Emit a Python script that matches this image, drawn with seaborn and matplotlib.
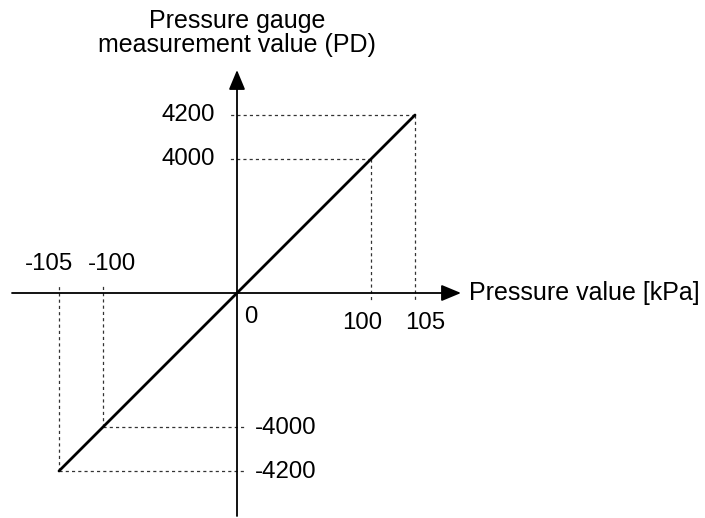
import numpy as np
import pandas as pd
import matplotlib
matplotlib.use("Agg")
import matplotlib.pyplot as plt
import seaborn as sns

# ---- data ----
pressure_kpa = [-105, -100, 0, 100, 105]
gauge_pd = [-4200, -4000, 0, 4000, 4200]
x_tick_values = [-105, -100, 0, 100, 105]
x_tick_labels = ["-105", "-100", "0", "100", "105"]
y_tick_values = [4200, 4000, -4000, -4200]
y_tick_labels = ["4200", "4000", "-4000", "-4200"]
x_label = "Pressure value [kPa]"
y_label = "Pressure gauge\nmeasurement value (PD)"

sns.set_theme(style="white")
plt.rcParams["font.family"] = ["Liberation Sans", "DejaVu Sans"]


def make_scale(brk, k_in, k_out):
    """Piecewise-linear (schematic, not-to-scale) axis mapping."""
    def fwd(v):
        v = np.asarray(v, float)
        a = np.abs(v)
        return np.sign(v) * np.where(a <= brk, k_in * a, k_in * brk + k_out * (a - brk))

    def inv(p):
        p = np.asarray(p, float)
        a = np.abs(p)
        return np.sign(p) * np.where(a <= k_in * brk, a / k_in, brk + (a - k_in * brk) / k_out)

    return fwd, inv


fx, ix = make_scale(100, 1.34, 8.8)
fy, iy = make_scale(4000, 0.0335, 0.22)

fig = plt.figure(figsize=(7.05, 5.18), dpi=100)
ax = fig.add_axes([0, 0, 1, 1])
ax.set_xscale("function", functions=(fx, ix))
ax.set_yscale("function", functions=(fy, iy))

df = pd.DataFrame({"pressure": pressure_kpa, "pd": gauge_pd})
sns.lineplot(data=df, x="pressure", y="pd", color="black", lw=2.0, ax=ax,
             sort=True, legend=False, zorder=5)

ax.set_xlim(float(ix(-237)), float(ix(468)))
ax.set_ylim(float(iy(-225)), float(iy(293)))
ax.axis("off")

# dashed guide lines
guide = dict(color="#333333", lw=0.9, ls=(0, (2.5, 2.5)), zorder=2)
for xv, yv in zip(pressure_kpa, gauge_pd):
    if xv == 0:
        continue
    s = np.sign(yv)
    ax.plot([xv, xv], [yv, float(iy(-s * 9))], **guide)
    ax.plot([xv, float(ix(-np.sign(xv) * 8))], [yv, yv], **guide)

# axes arrows
arrow = dict(arrowstyle="-|>,head_length=1.2,head_width=0.5", color="black",
             lw=1.3, shrinkA=0, shrinkB=0, mutation_scale=10)
ax.annotate("", xy=(461 / 705, 0), xytext=(12 / 705, 0),
            xycoords=ax.get_yaxis_transform(), textcoords=ax.get_yaxis_transform(),
            arrowprops=arrow, zorder=4)
ax.annotate("", xy=(0, (518 - 70) / 518), xytext=(0, (518 - 516) / 518),
            xycoords=ax.get_xaxis_transform(), textcoords=ax.get_xaxis_transform(),
            arrowprops=arrow, zorder=4)

fs_tick = 17.3
fs_label = 18
# x tick labels
x_offsets = {-105: (-10, 29), -100: (9, 29), 0: (14, -24), 100: (-9, -30), 105: (10, -30)}
for v, lab in zip(x_tick_values, x_tick_labels):
    ax.annotate(lab, xy=(v, 0), xytext=x_offsets[v], textcoords="offset pixels",
                ha="center", va="center", fontsize=fs_tick, color="black")

# y tick labels
for v, lab in zip(y_tick_values, y_tick_labels):
    if v > 0:
        ax.annotate(lab, xy=(0, v), xytext=(-22, 0), textcoords="offset pixels",
                    ha="right", va="center", fontsize=fs_tick, color="black")
    else:
        ax.annotate(lab, xy=(0, v), xytext=(18, -1), textcoords="offset pixels",
                    ha="left", va="center", fontsize=fs_tick, color="black")

# axis labels
ax.text(469 / 705, 0, x_label, transform=ax.get_yaxis_transform(),
        ha="left", va="center", fontsize=fs_label, color="black")
ax.annotate(y_label, xy=(0, (518 - 33) / 518), xycoords=ax.get_xaxis_transform(),
            xytext=(0, 0), textcoords="offset pixels",
            ha="center", va="center", multialignment="center",
            fontsize=fs_label, color="black", linespacing=1.0)

fig.savefig("out.png", dpi=100, facecolor="white")
